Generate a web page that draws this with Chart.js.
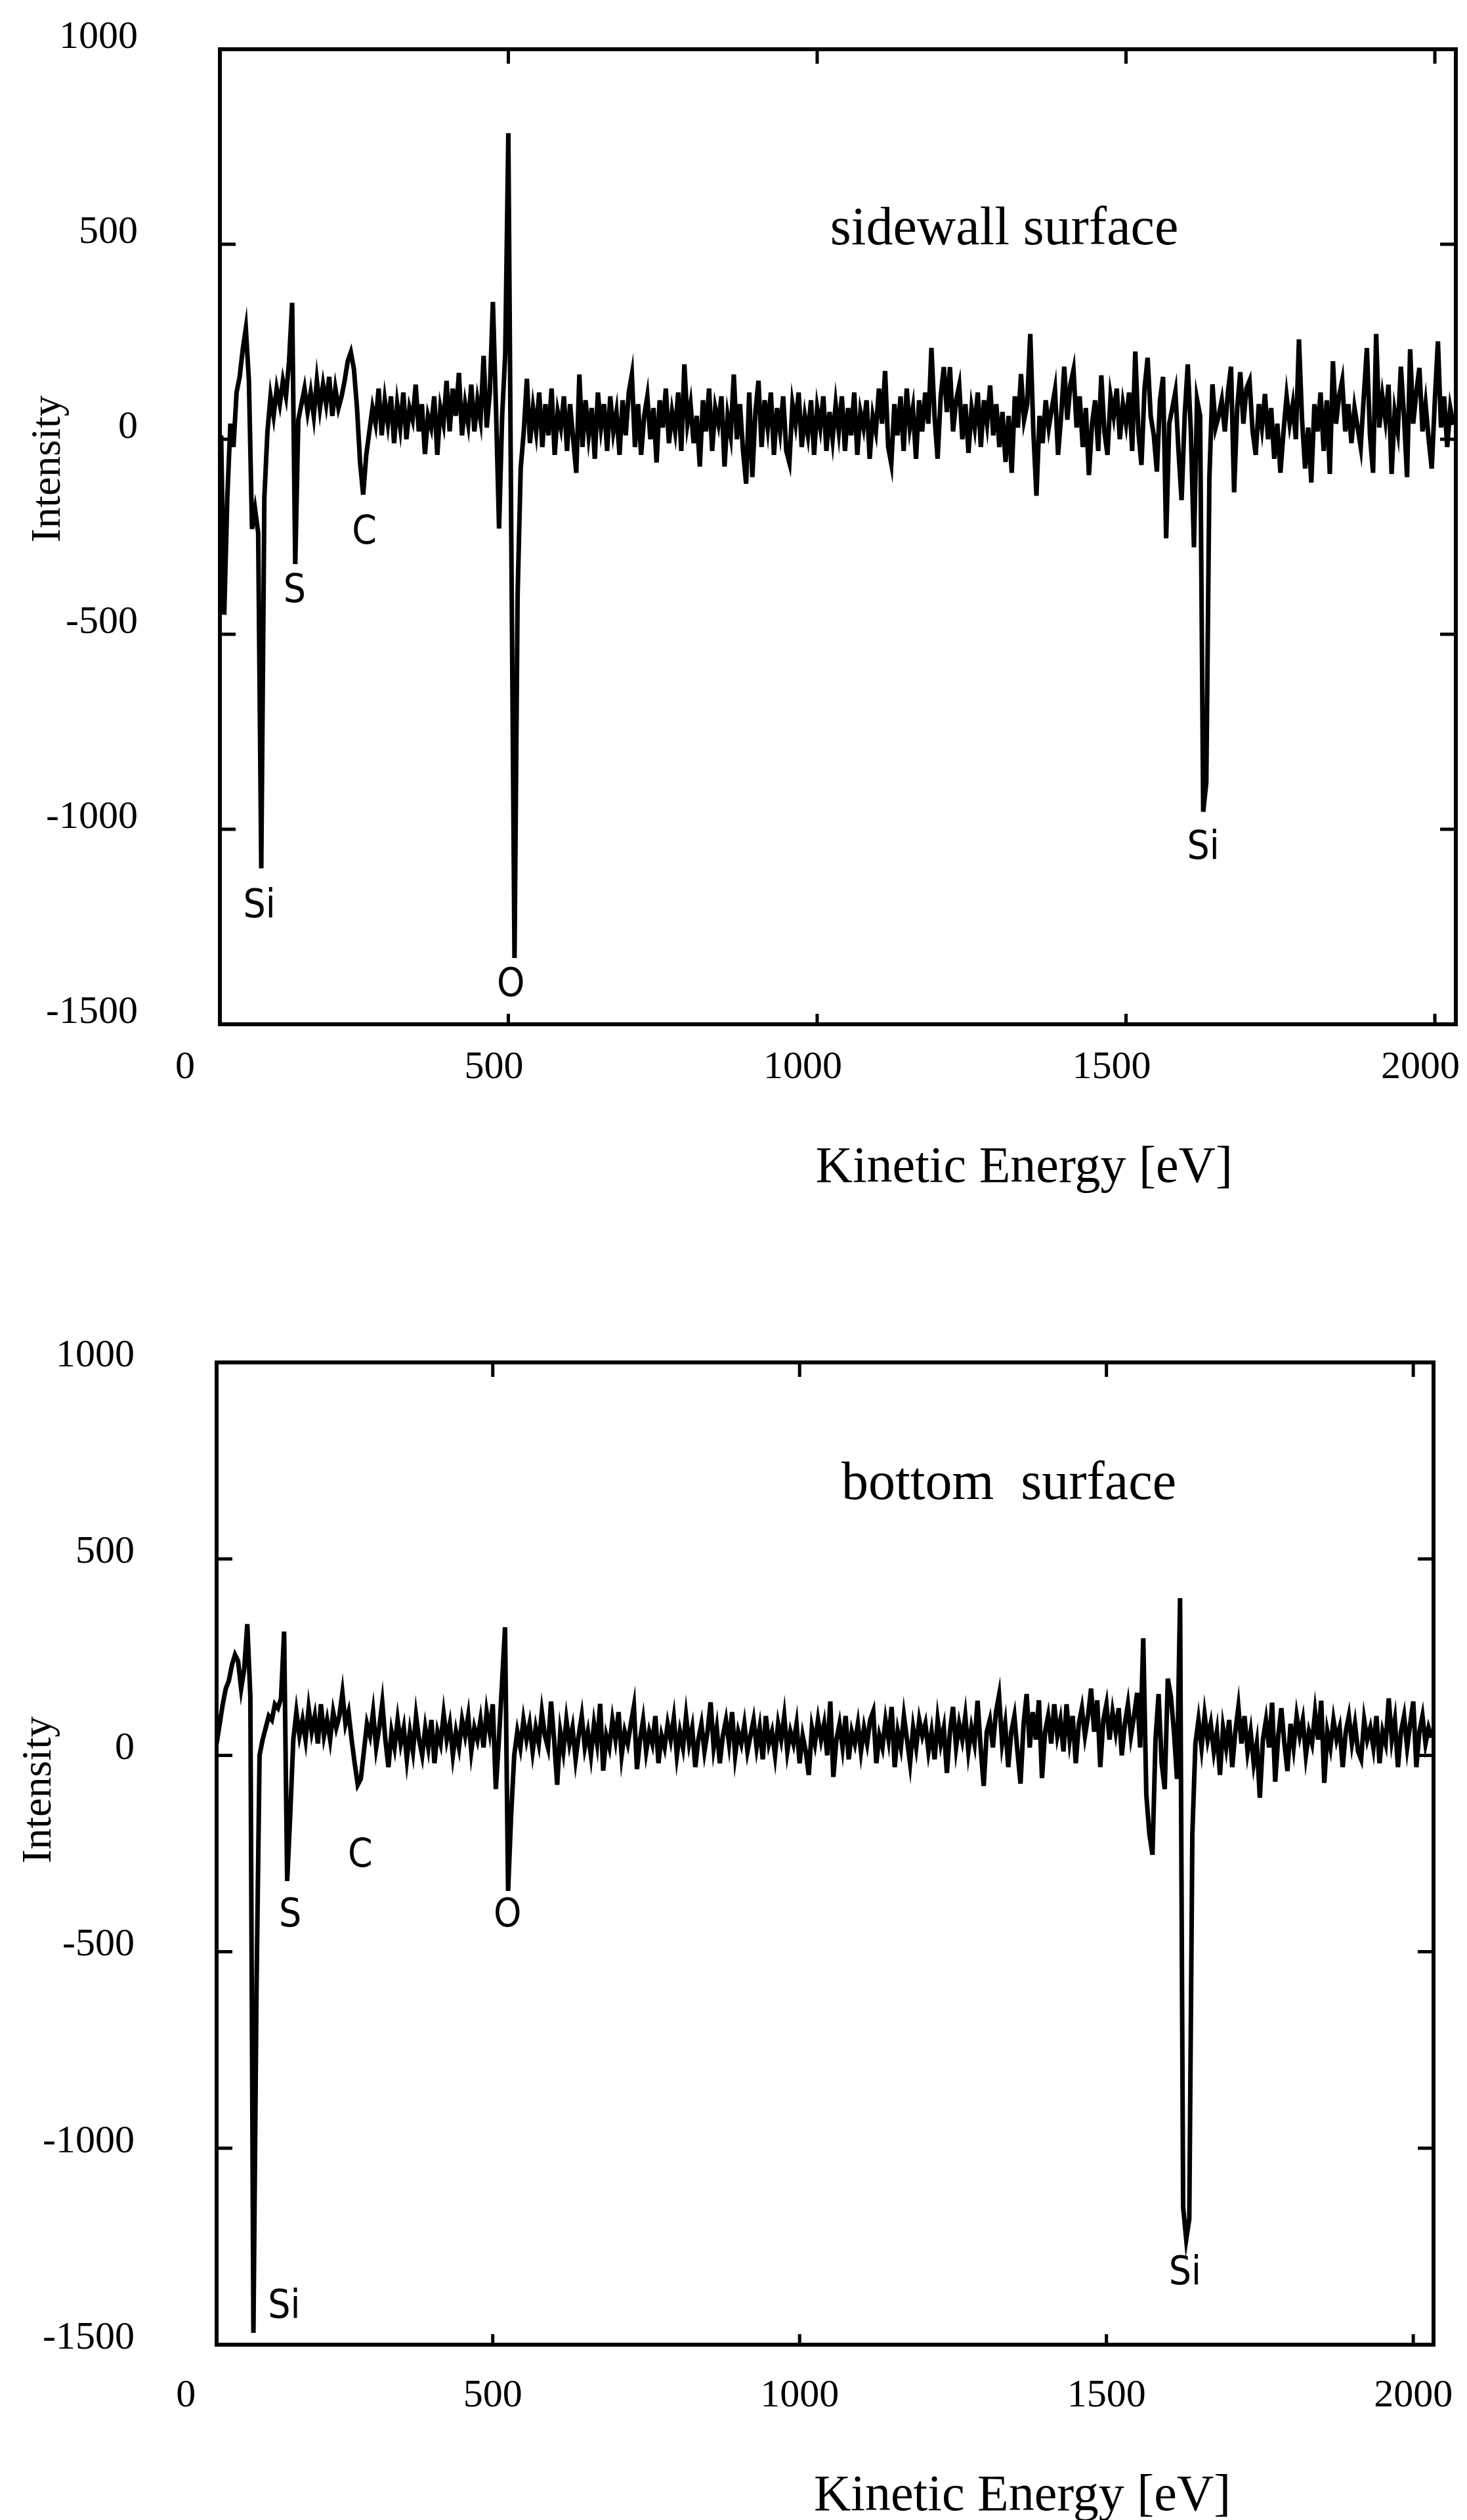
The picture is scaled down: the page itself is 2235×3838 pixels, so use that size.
<!DOCTYPE html>
<html>
<head>
<meta charset="utf-8">
<title>Auger spectra - sidewall / bottom surface</title>
<script src="https://cdn.jsdelivr.net/npm/chart.js@4.4.0/dist/chart.umd.min.js"></script>
<style>
  html, body { margin: 0; padding: 0; background: #fff; overflow: hidden; }
  #wrap { position: relative; width: 2235px; height: 3838px; background: #fff; }
  canvas { position: absolute; left: 0; }
</style>
</head>
<body>
<div id="wrap">
  <canvas id="sidewall" width="2235" height="1900" style="top:0"></canvas>
  <canvas id="bottom" width="2235" height="1938" style="top:1900px"></canvas>
</div>
<script>
// axis ticks (same for both panels)
const xTicks = [0, 500, 1000, 1500, 2000];
const yTicks = [1000, 500, 0, -500, -1000, -1500];

// spectra are sampled every 5 eV
const energyStep = 5;
const sidewallStart = 35;
const bottomStart = 50;

// sidewall surface, 35 .. 2030 eV
const sidewallIntensity = [
  10, -450, -150, 40, -20, 120, 160, 230, 284, 150,
  -230, -180, -240, -1100, -150, 20, 110, 60, 130, 90,
  150, 110, 200, 350, -320, 50, 90, 130, 70, 120,
  60, 150, 80, 140, 90, 160, 60, 130, 80, 110,
  150, 200, 223, 180, 80, -60, -142, -40, 20, 80,
  40, 130, 10, 100, 40, 110, -10, 90, 30, 120,
  0, 80, 50, 140, 20, 90, -38, 60, 30, 110,
  -40, 80, 40, 150, 20, 130, 60, 170, 10, 90,
  40, 140, 20, 100, 50, 214, 30, 120, 352, 80,
  -229, 60, 220, 785, -300, -1330, -400, -75, 20, 155,
  -10, 80, 20, 120, -20, 90, 10, 130, -40, 70,
  30, 110, -30, 90, 0, -86, 166, -20, 100, 10,
  80, -50, 120, 30, 90, -30, 110, 20, 70, -40,
  100, 10, 120, 166, -20, 90, -40, 60, 110, 0,
  80, -60, 100, 30, 130, -10, 70, 20, 120, -30,
  192, 40, 90, -10, 60, -70, 100, 20, 130, -30,
  80, 40, 110, -70, 60, 10, 166, 0, 90, -30,
  -114, 120, -97, 70, 150, -20, 100, 30, 120, -40,
  80, 20, 110, -30, -60, 90, 40, 120, -20, 60,
  10, 100, -40, 80, 30, 110, -30, 70, 0, 90,
  20, 110, -30, 80, 10, 120, -40, 70, 30, 100,
  -50, 60, 20, 130, 40, 175, -20, -63, 90, 10,
  110, -30, 130, 30, 80, -50, 100, 20, 120, 40,
  234, 60, -50, 110, 185, 70, 185, 20, 100, 138,
  0, 90, -35, 80, 30, 120, -20, 100, 40, 138,
  10, 90, -20, 70, -58, 60, -86, 110, 30, 167,
  50, 90, 270, 20, -145, 60, -10, 100, 30, 80,
  127, -40, 60, 186, 50, 140, 178, 30, 110, -20,
  80, -92, 40, 100, -30, 164, 20, -40, 110, 60,
  130, 0, 90, 40, 120, -30, 225, 20, -66, 130,
  209, 60, 10, -83, 100, 160, -254, 40, 80, 122,
  -30, -156, 60, 192, 20, -277, 102, 60, -955, -880,
  -100, 141, 30, 60, 100, 20, 120, 186, -136, 80,
  172, 40, 130, 150, 20, -40, 90, 30, 116, 0,
  80, -50, 40, -86, 20, 110, 40, 90, 0, 256,
  50, -75, 30, -111, 90, 20, 120, -30, 100, -89,
  200, 40, 110, 150, 20, 90, -10, 80, 30, -20,
  110, 234, 10, -86, 270, 30, 110, 50, 140, -89,
  70, 20, 186, 60, -97, 231, 40, 120, 183, 20,
  90, 0, -75, 100, 251, 30, 110, -20, 80, 37
];

// bottom surface, 50 .. 2030 eV
const bottomIntensity = [
  30, 80, 130, 170, 190, 230, 256, 240, 170, 220,
  334, 150, -1470, -600, 0, 40, 70, 100, 90, 130,
  120, 145, 315, -320, -150, 40, 110, 50, 90, 40,
  120, 60, 100, 30, 130, 50, 90, 40, 110, 70,
  100, 159, 80, 110, 40, -20, -75, -60, 10, 80,
  50, 110, 20, 70, 134, 40, -30, 60, 20, 90,
  30, 70, -10, 60, 10, 100, 40, 0, 70, 20,
  90, -20, 60, 30, 105, 40, 80, 0, 60, 20,
  90, 50, 100, 10, 70, 40, 90, 20, 110, 60,
  130, -86, 40, 180, 326, -345, -150, 0, 60, 20,
  90, 40, 80, 10, 70, 30, 110, 50, 20, 137,
  40, -75, 60, 10, 90, 30, 70, -10, 50, 100,
  20, 60, 0, 80, 30, 131, -39, 50, 20, 90,
  40, 110, 0, 60, 30, 80, 125, -35, 40, 90,
  10, 60, 30, 100, -20, 50, 20, 80, 40, 95,
  0, 60, 20, 100, 30, 70, -30, 40, 80, 10,
  60, 135, 20, 70, -20, 50, 90, 30, 110, 0,
  60, 30, 80, 10, 50, 90, 20, 70, -10, 100,
  30, 60, 0, 80, 40, 100, 10, 60, 30, 80,
  -20, 50, 10, -50, 70, 30, 90, 40, 80, 0,
  137, -55, 40, 80, 20, 100, -10, 60, 30, 80,
  10, 70, 30, 90, 112, -20, 50, 20, 90, 40,
  123, -30, 60, 20, 100, 40, -20, 70, 20, 90,
  50, 80, 10, 60, -10, 90, 30, 70, -45, 60,
  123, 20, 80, 40, 100, 10, 70, 30, 139, 20,
  -78, 60, 90, 20, 110, 153, 30, 80, -30, 60,
  100, 10, -72, 80, 156, 20, 110, 40, 140, -58,
  60, 100, 30, 130, 50, 90, 10, 130, 40, 100,
  -20, 80, 120, 50, 100, 170, 60, 140, -30, 90,
  130, 40, 110, 60, 120, 0, 80, 130, 50, 100,
  159, 20, 298, -100, -200, -253, 40, 156, -20, -86,
  195, 150, 60, -60, 400, -1150, -1232, -1180, -200, 30,
  90, 20, 103, 40, 80, 10, 60, -50, 70, 20,
  90, -30, 60, 123, 30, 100, 10, 60, -20, 30,
  -108, 40, 90, 20, 134, -67, 50, 120, 30, -40,
  80, 20, 100, 50, 90, 0, 60, 30, 110, 40,
  139, -70, 60, 20, 90, 40, 70, -30, 60, 100,
  30, 80, 10, -10, 90, 40, 70, 20, 100, -20,
  60, 30, 145, 40, 90, -30, 60, 100, 20, 80,
  137, -30, 60, 100, 30, 70, 45
];

// peak labels (element, energy, intensity where the label sits)
const sidewallPeakNames = ['Si', 'S', 'C', 'O', 'Si'];
const sidewallPeakEnergy = [97, 154, 267, 504, 1625];
const sidewallPeakLevel = [-1200, -392, -242, -1402, -1050];

const bottomPeakNames = ['Si', 'S', 'C', 'O', 'Si'];
const bottomPeakEnergy = [160, 170, 284, 524, 1628];
const bottomPeakLevel = [-1406, -409, -258, -409, -1321];

Chart.defaults.font.family = '"Liberation Serif", "DejaVu Serif", serif';
Chart.defaults.color = '#000';

const peakFont = '60px "Liberation Sans Narrow", "DejaVu Sans Condensed", "Liberation Sans", sans-serif';
const serif = '"Liberation Serif", "DejaVu Serif", serif';

// frame with inward ticks, peak labels, panel name and axis titles
const panelDecor = {
  id: 'panelDecor',
  afterDatasetsDraw(chart, args, o) {
    const { ctx, chartArea: a } = chart;
    const x = chart.scales.x, y = chart.scales.y;
    ctx.save();
    ctx.strokeStyle = '#000';
    ctx.lineWidth = 6;
    ctx.strokeRect(a.left, a.top, a.right - a.left, a.bottom - a.top);

    ctx.lineWidth = 5;
    ctx.beginPath();
    x.ticks.forEach(t => {
      if (t.value <= x.min || t.value >= x.max) return;
      const px = x.getPixelForValue(t.value);
      ctx.moveTo(px, a.top); ctx.lineTo(px, a.top + 22);
      ctx.moveTo(px, a.bottom); ctx.lineTo(px, a.bottom - 16);
    });
    y.ticks.forEach(t => {
      if (t.value <= y.min || t.value >= y.max) return;
      const py = y.getPixelForValue(t.value);
      ctx.moveTo(a.left, py); ctx.lineTo(a.left + 24, py);
      ctx.moveTo(a.right, py); ctx.lineTo(a.right - 24, py);
    });
    ctx.stroke();

    ctx.fillStyle = '#000';
    ctx.textAlign = 'center';
    ctx.textBaseline = 'middle';
    ctx.font = peakFont;
    o.names.forEach((n, i) => {
      ctx.fillText(n, x.getPixelForValue(o.energy[i]), y.getPixelForValue(o.level[i]));
    });

    ctx.font = '82px ' + serif;
    ctx.fillText(o.panel, x.getPixelForValue(o.panelAt[0]), y.getPixelForValue(o.panelAt[1]));

    ctx.font = '78px ' + serif;
    ctx.fillText('Kinetic Energy [eV]', x.getPixelForValue(o.xTitleAt), a.bottom + o.xTitleDrop);

    ctx.font = '64px ' + serif;
    ctx.translate(a.left - o.yTitleShift, y.getPixelForValue(o.yTitleAt));
    ctx.rotate(-Math.PI / 2);
    ctx.fillText('Intensity', 0, 0);
    ctx.restore();
  }
};

function makePanel(id, start, values, opt) {
  const points = values.map((v, i) => ({ x: start + i * energyStep, y: v }));
  return new Chart(document.getElementById(id), {
    type: 'line',
    data: {
      datasets: [{
        data: points,
        borderColor: '#000',
        borderWidth: 7,
        borderJoinStyle: 'miter',
        pointRadius: 0,
        tension: 0,
        fill: false
      }]
    },
    options: {
      responsive: false,
      animation: false,
      devicePixelRatio: 1,
      events: [],
      layout: { padding: opt.padding },
      plugins: {
        legend: { display: false },
        tooltip: { enabled: false },
        panelDecor: opt.decor
      },
      scales: {
        x: {
          type: 'linear',
          min: opt.xMin,
          max: opt.xMax,
          border: { display: false },
          grid: { display: false, drawTicks: false },
          afterBuildTicks: s => { s.ticks = xTicks.map(v => ({ value: v })); },
          afterFit: s => { s.height = opt.xHeight; s.paddingLeft = 0; s.paddingRight = 0; },
          ticks: {
            font: { size: 60 },
            padding: opt.xPad,
            labelOffset: opt.xLabelShift,
            maxRotation: 0,
            autoSkip: false,
            callback: v => String(v)
          }
        },
        y: {
          type: 'linear',
          min: -1500,
          max: 1000,
          border: { display: false },
          grid: { display: false, drawTicks: false },
          afterBuildTicks: s => { s.ticks = yTicks.map(v => ({ value: v })); },
          afterFit: s => { s.width = opt.yWidth; s.paddingTop = 0; s.paddingBottom = 0; },
          ticks: {
            font: { size: 60 },
            padding: opt.yPad,
            labelOffset: opt.yLabelShift,
            autoSkip: false,
            callback: v => String(v)
          }
        }
      }
    },
    plugins: [panelDecor]
  });
}

makePanel('sidewall', sidewallStart, sidewallIntensity, {
  padding: { top: 75, right: 17, left: 0, bottom: 0 },
  xMin: 33, xMax: 2034,
  xHeight: 340, yWidth: 335,
  xPad: 30, yPad: 125,
  xLabelShift: -22, yLabelShift: -18,
  decor: {
    names: sidewallPeakNames, energy: sidewallPeakEnergy, level: sidewallPeakLevel,
    panel: 'sidewall surface', panelAt: [1303, 537],
    xTitleAt: 1335, xTitleDrop: 220,
    yTitleAt: -76, yTitleShift: 261
  }
});

makePanel('bottom', bottomStart, bottomIntensity, {
  padding: { top: 175, right: 51, left: 0, bottom: 0 },
  xMin: 50, xMax: 2033,
  xHeight: 267, yWidth: 330,
  xPad: 42, yPad: 125,
  xLabelShift: 0, yLabelShift: -10,
  decor: {
    names: bottomPeakNames, energy: bottomPeakEnergy, level: bottomPeakLevel,
    panel: 'bottom  surface', panelAt: [1341, 688],
    xTitleAt: 1363, xTitleDrop: 232,
    yTitleAt: -88, yTitleShift: 270
  }
});
</script>
</body>
</html>
